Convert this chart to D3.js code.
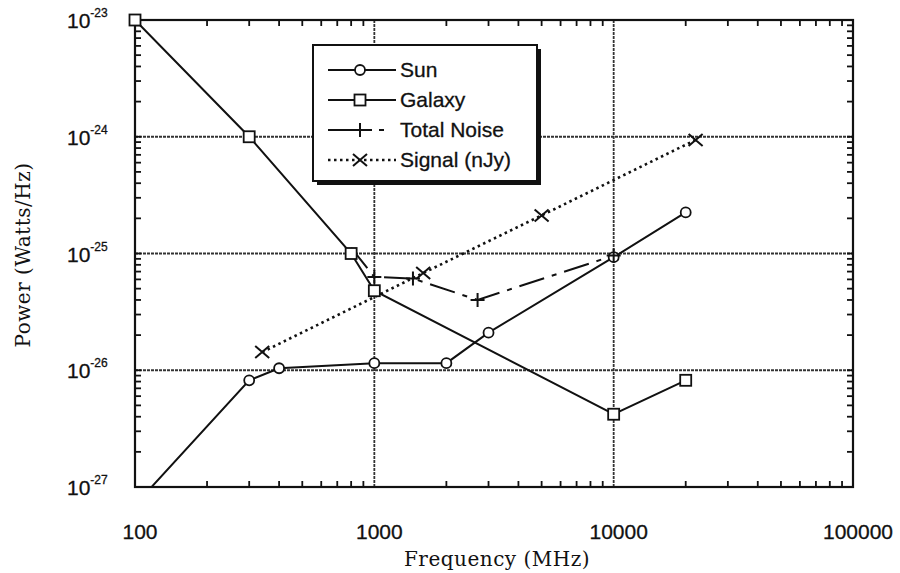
<!DOCTYPE html>
<html>
<head>
<meta charset="utf-8">
<script src="https://cdn.jsdelivr.net/npm/d3@7"></script>
<style>
body{margin:0;background:#fff}
.tick-lab{font-family:"Liberation Sans",Arial,sans-serif;font-size:21px;fill:#111;stroke:#111;stroke-width:0.3px}
.ax-title{font-family:"DejaVu Serif",serif;font-size:20px;fill:#111;letter-spacing:0.5px}
.leg{font-family:"Liberation Sans",Arial,sans-serif;font-size:21px;fill:#111;stroke:#111;stroke-width:0.3px}
</style>
</head>
<body>
<svg id="chart" width="900" height="573"></svg>
<script>
// values (MHz, W/Hz)
var sun = [[100,7e-28],[300,8.2e-27],[400,1.04e-26],[1000,1.15e-26],[2000,1.15e-26],[3000,2.1e-26],[10000,9.3e-26],[20000,2.25e-25]]
var galaxy = [[100,1e-23],[300,1e-24],[800,1e-25],[1000,4.8e-26],[10000,4.2e-27],[20000,8.2e-27]]
var totalNoise = [[800,1.12e-25],[1000,6.3e-26],[1450,6.1e-26],[2700,4e-26],[10000,9.6e-26]]
var signal = [[340,1.43e-26],[1600,6.8e-26],[5000,2.12e-25],[22000,9.4e-25]]
var xTicks = [100,1000,10000,100000]
var yTicks = [1e-23,1e-24,1e-25,1e-26,1e-27]
var legendNames = ["Sun","Galaxy","Total Noise","Signal (nJy)"]

var L = 135, R = 853, T = 20, B = 487
var svg = d3.select("#chart")
var x = d3.scaleLog().domain([100,100000]).range([L,R])
var y = d3.scaleLog().domain([1e-27,1e-23]).range([B,T])

svg.append("clipPath").attr("id","plotclip")
	.append("rect").attr("x",L).attr("y",T).attr("width",R-L).attr("height",B-T)

// grid at the decades
var grid = svg.append("g")
grid.selectAll("line.gx").data(xTicks.slice(1,-1)).enter().append("line")
	.attr("x1",function(d){return x(d)}).attr("x2",function(d){return x(d)})
	.attr("y1",T).attr("y2",B)
	.attr("stroke","#333").attr("stroke-width",1.8).attr("stroke-dasharray","3,1")
grid.selectAll("line.gy").data(yTicks.slice(1,-1)).enter().append("line")
	.attr("y1",function(d){return y(d)}).attr("y2",function(d){return y(d)})
	.attr("x1",L).attr("x2",R)
	.attr("stroke","#333").attr("stroke-width",1.8).attr("stroke-dasharray","3,1")

// minor ticks, inward on all four sides
var xMinor = x.ticks().filter(function(d){ return xTicks.indexOf(d) < 0 })
var yMinor = y.ticks().filter(function(d){ return yTicks.indexOf(d) < 0 })
var tk = svg.append("g").attr("stroke","#111").attr("stroke-width",1.8)
xMinor.forEach(function(d){
	tk.append("line").attr("x1",x(d)).attr("x2",x(d)).attr("y1",B).attr("y2",B-6)
	tk.append("line").attr("x1",x(d)).attr("x2",x(d)).attr("y1",T).attr("y2",T+6)
})
yMinor.forEach(function(d){
	tk.append("line").attr("y1",y(d)).attr("y2",y(d)).attr("x1",L).attr("x2",L+6)
	tk.append("line").attr("y1",y(d)).attr("y2",y(d)).attr("x1",R).attr("x2",R-6)
})
svg.append("rect").attr("x",L).attr("y",T).attr("width",R-L).attr("height",B-T)
	.attr("fill","none").attr("stroke","#111").attr("stroke-width",2.2)

// tick labels
svg.selectAll("text.xl").data(xTicks).enter().append("text")
	.attr("class","tick-lab").attr("x",function(d){return x(d)+5}).attr("y",539)
	.attr("text-anchor","middle").text(function(d){return d})
var yl = svg.selectAll("text.yl").data(yTicks).enter().append("text")
	.attr("class","tick-lab").attr("x",67).attr("y",function(d){return y(d)+8})
yl.append("tspan").text("10")
yl.append("tspan").attr("dy",-11).attr("font-size",12)
	.text(function(d){return Math.round(Math.log10(d))})

svg.append("text").attr("class","ax-title").attr("x",(L+R)/2+3).attr("y",566)
	.attr("text-anchor","middle").text("Frequency (MHz)")
svg.append("text").attr("class","ax-title")
	.attr("transform","translate(30,255) rotate(-90)")
	.attr("text-anchor","middle").text("Power (Watts/Hz)")

// series
var line = d3.line().x(function(d){return x(d[0])}).y(function(d){return y(d[1])})
var plot = svg.append("g").attr("clip-path","url(#plotclip)")
var series = [
	{data:sun, dash:null, mark:"circle"},
	{data:galaxy, dash:null, mark:"square"},
	{data:totalNoise, dash:"26,8,5,8", mark:"plus"},
	{data:signal, dash:"2.5,3.5", mark:"cross"}
]

function marker(g, type, cx, cy){
	if(type == "circle"){
		g.append("circle").attr("cx",cx).attr("cy",cy).attr("r",5)
			.attr("fill","#fff").attr("stroke","#111").attr("stroke-width",1.8)
	} else if(type == "square"){
		g.append("rect").attr("x",cx-5.5).attr("y",cy-5.5).attr("width",11).attr("height",11)
			.attr("fill","#fff").attr("stroke","#111").attr("stroke-width",1.8)
	} else if(type == "plus"){
		g.append("path").attr("d","M"+(cx-7)+","+cy+"h14M"+cx+","+(cy-7)+"v14")
			.attr("stroke","#111").attr("stroke-width",2)
	} else {
		g.append("path").attr("d","M"+(cx-7)+","+(cy-6)+"L"+(cx+7)+","+(cy+6)+"M"+(cx-7)+","+(cy+6)+"L"+(cx+7)+","+(cy-6))
			.attr("stroke","#111").attr("stroke-width",2)
	}
}

series.forEach(function(s){
	plot.append("path").attr("d",line(s.data)).attr("fill","none")
		.attr("stroke","#111").attr("stroke-width",s.mark=="cross"?2.6:2)
		.attr("stroke-dasharray",s.dash)
})
var marks = svg.append("g")
series.forEach(function(s){
	s.data.forEach(function(d){
		if(d[1] < 1e-27) return
		if(s.mark=="plus" && d[0]==800) return
		marker(marks, s.mark, x(d[0]), y(d[1]))
	})
})

// legend
var lg = svg.append("g")
lg.append("rect").attr("x",317).attr("y",49).attr("width",224).attr("height",136).attr("fill","#111")
lg.append("rect").attr("x",313).attr("y",45).attr("width",224).attr("height",136)
	.attr("fill","#fff").attr("stroke","#111").attr("stroke-width",2)
legendNames.forEach(function(n,i){
	var ly = 70 + i*30
	var s = series[i]
	lg.append("line").attr("x1",328).attr("x2",396).attr("y1",ly).attr("y2",ly)
		.attr("stroke","#111").attr("stroke-width",s.mark=="cross"?2.6:2)
		.attr("stroke-dasharray", s.mark=="plus" ? "32,7,5,7,5" : s.dash)
	marker(lg, s.mark, 360, ly)
	lg.append("text").attr("class","leg").attr("x",400).attr("y",ly+7).text(n)
})
</script>
</body>
</html>
